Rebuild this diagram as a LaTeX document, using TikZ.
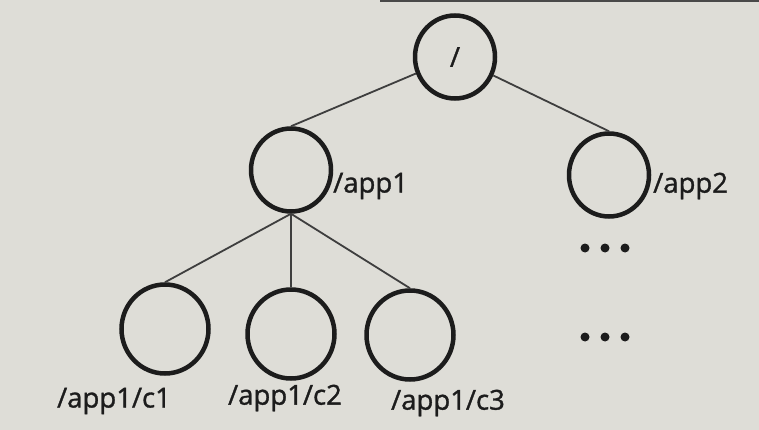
\documentclass[tikz,border=0pt]{standalone}
\usepackage{fontspec}
\setmainfont{Open Sans}
\newfontfamily\labelfont[FakeBold=1.2]{Open Sans}
\usetikzlibrary{shapes.geometric}
\definecolor{paper}{RGB}{222,221,215}
\definecolor{ink}{RGB}{28,28,28}

\begin{document}
\begin{tikzpicture}[x=1pt,y=-1pt,
  znode/.style={ellipse,draw=ink,line width=4.5pt,inner sep=0pt,minimum width=80pt,minimum height=83pt},
  leaf/.style={znode,minimum width=87pt,minimum height=89pt},
  edge/.style={draw=ink!85,line width=1.8pt},
  path/.style={text=ink,font=\labelfont\fontsize{27.5}{32}\selectfont,inner sep=0pt}]
\fill[paper] (0,0) rectangle (759,430);
\useasboundingbox (0,0) rectangle (759,430);
\draw[line width=2.5pt,ink!80] (380,1) -- (759,1);

\node[znode] (root) at (455,57) {};
\node[path] (rootlabel) at (455,57) {/};
\node[znode] (app1) at (291,170) {};
\node[znode] (app2) at (609,175) {};
\node[leaf] (c1) at (165,329) {};
\node[leaf] (c2) at (291,334) {};
\node[leaf] (c3) at (410,335) {};

\node[path,anchor=west] (app1label) at (333,186) {/app1};
\node[path,anchor=west] (app2label) at (653,186) {/app2};
\node[path] (c1label) at (114,401) {/app1/c1};
\node[path] (c2label) at (285,398) {/app1/c2};
\node[path] (c3label) at (448,403) {/app1/c3};

\draw[edge] (root) -- (app1.north);
\draw[edge] (root) -- (app2.north);
\draw[edge] (app1.south) -- (c1.north);
\draw[edge] (app1.south) -- (c2.north);
\draw[edge] (app1.south) -- (c3.north);

\foreach \y in {248,337}
  \foreach \x in {585,605,625}
    \fill[ink] (\x,\y) circle (4.5pt);
\end{tikzpicture}
\end{document}
